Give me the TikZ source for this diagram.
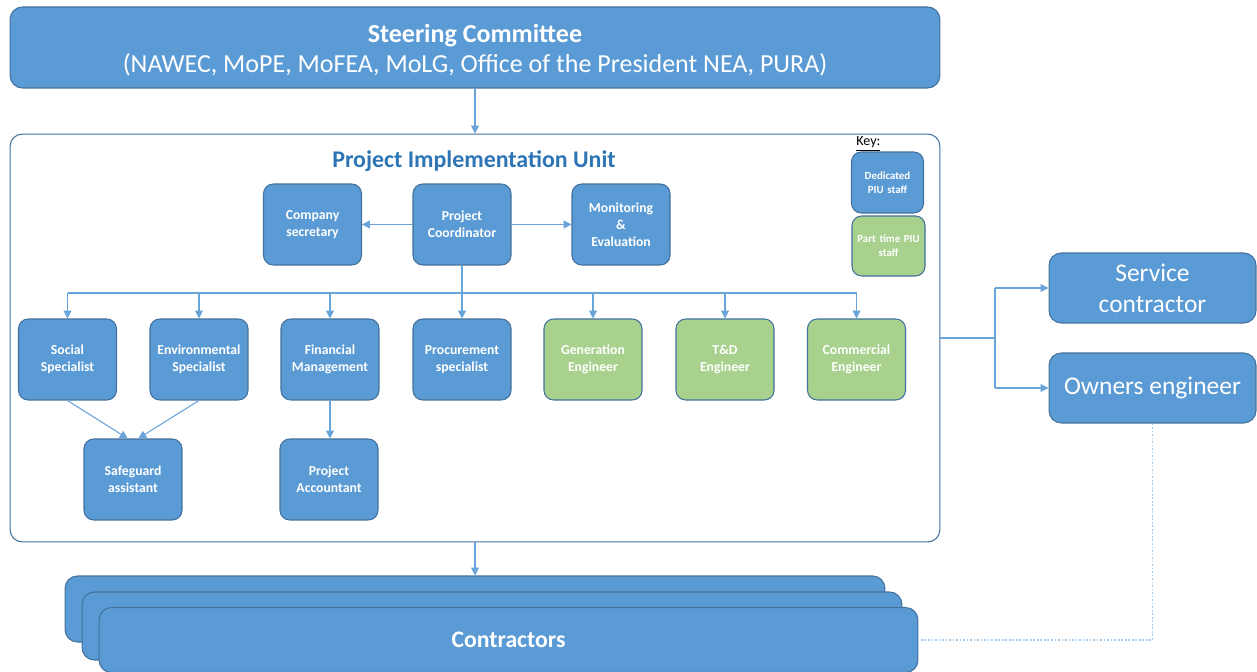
\documentclass[tikz,border=0pt]{standalone}
\usepackage{fontspec}
\setmainfont{Carlito}
\usetikzlibrary{arrows.meta}
\definecolor{boxblue}{RGB}{91,155,213}
\definecolor{edgeblue}{RGB}{65,113,156}
\definecolor{boxgreen}{RGB}{169,209,142}
\definecolor{titleblue}{RGB}{46,117,182}
\definecolor{linkblue}{RGB}{104,163,218}
\definecolor{dotblue}{RGB}{170,202,234}

\begin{document}
\begin{tikzpicture}[x=0.02cm, y=-0.02cm,
	staff/.style={draw=edgeblue, fill=boxblue, line width=0.6pt, rounded corners=5.5pt, minimum width=1.96cm, minimum height=1.62cm, text width=1.9cm, align=center, text=white, inner sep=0pt, font=\fontsize{7.8}{9.6}\selectfont\bfseries},
	parttime/.style={staff, fill=boxgreen},
	bigbox/.style={draw=edgeblue, fill=boxblue, line width=0.6pt, rounded corners=7pt, align=center, text=white, inner sep=0pt},
	link/.style={linkblue, line width=0.6pt, -{Triangle[length=4.5pt,width=4.5pt]}},
	plain/.style={linkblue, line width=0.6pt}]
	\useasboundingbox (0,0) rectangle (1257,672);

	% top of the chart
	\node[bigbox, minimum width=18.6cm, minimum height=1.62cm, font=\fontsize{14.8}{17.6}\selectfont] (sc) at (475,47.5) {\rule{0pt}{13.4pt}\textbf{Steering Committee}\\(NAWEC, MoPE, MoFEA, MoLG, Office of the President NEA, PURA)};
	\node[draw=edgeblue, fill=white, line width=0.6pt, rounded corners=7pt, minimum width=18.6cm, minimum height=8.16cm, inner sep=0pt] (piu) at (475,338) {};
	\node[text=titleblue, font=\fontsize{13.6}{16}\selectfont\bfseries] (piutitle) at (474,161) {Project Implementation Unit};

	% key
	\node[anchor=west, font=\fontsize{8}{9}\selectfont, inner sep=0pt] (key) at (856,144) {\underline{Key:}};
	\node[staff, minimum width=1.44cm, minimum height=1.22cm, text width=1.4cm, font=\fontsize{6.2}{8}\selectfont\bfseries] (ded) at (887.5,182.5) {Dedicated\\PIU staff};
	\node[parttime, minimum width=1.46cm, minimum height=1.2cm, text width=1.44cm, font=\fontsize{6.2}{8}\selectfont\bfseries] (part) at (888.5,246) {Part time PIU\\staff};

	% coordinator level
	\node[staff] (cs) at (312.5,224.5) {Company\\secretary};
	\node[staff] (pc) at (462,224.5) {Project\\Coordinator};
	\node[staff] (me) at (621,224.5) {Monitoring\\\&\\Evaluation};

	% specialists
	\node[staff] (soc) at (67.5,359.5) {Social\\Specialist};
	\node[staff] (env) at (199,359.5) {Environmental\\Specialist};
	\node[staff] (fin) at (330,359.5) {Financial\\Management};
	\node[staff] (proc) at (462,359.5) {Procurement\\specialist};
	\node[parttime] (gen) at (593,359.5) {Generation\\Engineer};
	\node[parttime] (td) at (725,359.5) {T\&D\\Engineer};
	\node[parttime] (com) at (856.5,359.5) {Commercial\\Engineer};

	\node[staff] (safe) at (133,479.5) {Safeguard\\assistant};
	\node[staff] (acc) at (329,479.5) {Project\\Accountant};

	% outside the unit
	\node[bigbox, minimum width=4.14cm, minimum height=1.4cm, font=\fontsize{14.5}{17.6}\selectfont] (svc) at (1152.5,288) {Service\\contractor};
	\node[bigbox, minimum width=4.14cm, minimum height=1.4cm, font=\fontsize{14.5}{17.6}\selectfont] (owe) at (1152.5,388) {Owners engineer};

	\node[bigbox, minimum width=16.4cm, minimum height=1.32cm] (con1) at (475,609) {};
	\node[bigbox, minimum width=16.4cm, minimum height=1.36cm] (con2) at (492,626) {};
	\node[bigbox, minimum width=16.38cm, minimum height=1.3cm, font=\fontsize{13.5}{16}\selectfont\bfseries] (con3) at (508.5,640) {Contractors};

	% connectors
	\draw[link] (sc.south) -- (piu.north);
	\draw[link] (pc.west) -- (cs.east);
	\draw[link] (pc.east) -- (me.west);

	\coordinate (bus) at (462,293);
	\draw[plain] (pc.south) -- (bus);
	\draw[plain] (soc.north |- bus) -- (com.north |- bus);
	\foreach \n in {soc,env,fin,proc,gen,td,com}
		\draw[link] (\n.north |- bus) -- (\n.north);

	\draw[link] (soc.south) -- ([xshift=-3pt]safe.north);
	\draw[link] (env.south) -- ([xshift=3pt]safe.north);
	\draw[link] (fin.south) -- (fin.south |- acc.north);

	\draw[link] (piu.south) -- (con1.north);

	\coordinate (split) at (995,338);
	\draw[plain] (piu.east |- split) -- (split);
	\draw[plain] (split |- svc.west) -- (split |- owe.west);
	\draw[link] (split |- svc.west) -- (svc.west);
	\draw[link] (split |- owe.west) -- (owe.west);

	\draw[dotblue, line width=1pt, densely dotted] (owe.south) |- (con3.east);
\end{tikzpicture}
\end{document}
